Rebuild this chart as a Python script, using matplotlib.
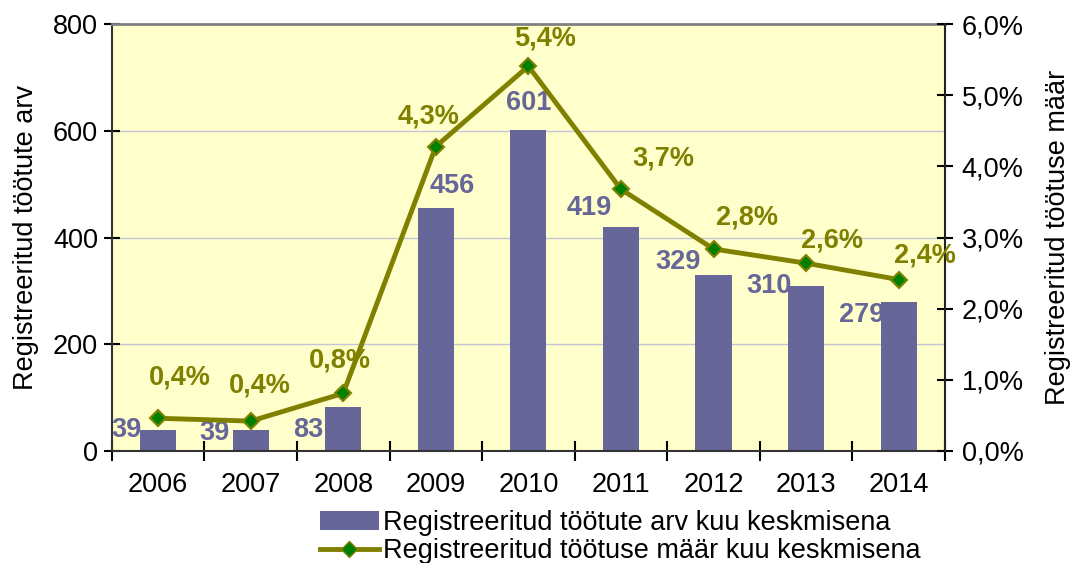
import numpy as np
import matplotlib.pyplot as plt
from matplotlib.ticker import FuncFormatter
from matplotlib.lines import Line2D
from matplotlib.patches import Patch

plt.rcParams['font.family'] = ['Liberation Sans', 'DejaVu Sans']

# data
years = ['2006', '2007', '2008', '2009', '2010', '2011', '2012', '2013', '2014']
unemployed = [39, 39, 83, 456, 601, 419, 329, 310, 279]
rate = [0.46, 0.42, 0.81, 4.28, 5.41, 3.68, 2.84, 2.64, 2.41]
rate_labels = ['0,4%', '0,4%', '0,8%', '4,3%', '5,4%', '3,7%', '2,8%', '2,6%', '2,4%']

# label offsets in pixels (dx, dy), label centre relative to the mark
bar_offsets = [(-32, 0), (-36, -3), (-35, -23), (16, 22), (0, 27),
               (-32, 19), (-35, 13), (-37, 0), (-37, -13)]
line_offsets = [(22, 41), (9, 36), (-3, 33), (-7, 30), (17, 28),
                (42, 31), (33, 31), (26, 23), (26, 24)]

bar_color = '#666699'
line_color = '#808000'
fs = 19.5

fig = plt.figure(figsize=(10.75, 5.63), dpi=100)
ax = fig.add_axes([0.104, 0.199, 0.775, 0.758])
ax.set_facecolor('#FFFFCC')

x = np.arange(len(years))
ax.bar(x, unemployed, width=0.39, color=bar_color, zorder=2)
ax.set_xlim(-0.5, len(years) - 0.5)
ax.set_ylim(0, 800)
ax.set_yticks([0, 200, 400, 600, 800])
ax.yaxis.grid(True, color='#C4C4D8', linewidth=1)
ax.set_axisbelow(True)
ax.set_xticks(x)
ax.set_xticklabels(years, fontsize=fs)
ax.set_xticks(np.arange(-0.5, len(years)), minor=True)
ax.tick_params(axis='x', which='major', length=0, pad=15)
ax.tick_params(axis='x', which='minor', direction='inout', length=14, width=1.5)
ax.tick_params(axis='y', direction='inout', length=12, width=1.5, labelsize=fs, pad=4)
ax.set_ylabel('Registreeritud töötute arv', fontsize=fs, labelpad=10)

for sp in ['left', 'bottom']:
    ax.spines[sp].set_color('#333333')
    ax.spines[sp].set_linewidth(1.5)
ax.spines['top'].set_color('#808080')
ax.spines['top'].set_linewidth(2)
ax.spines['right'].set_visible(False)

for i, v in enumerate(unemployed):
    dx, dy = bar_offsets[i]
    ax.annotate(str(v), (x[i], v), xytext=(dx, dy), textcoords='offset pixels',
                ha='center', va='center', fontsize=fs, fontweight='bold',
                color=bar_color, zorder=5)

ax2 = ax.twinx()
ax2.plot(x, rate, color=line_color, linewidth=3.5, marker='D', markersize=8,
         markerfacecolor='#008000', markeredgecolor=line_color, markeredgewidth=1.5,
         zorder=4)
ax2.set_ylim(0, 6)
ax2.set_yticks([0, 1, 2, 3, 4, 5, 6])
ax2.yaxis.set_major_formatter(FuncFormatter(lambda v, p: f'{v:.1f}%'.replace('.', ',')))
ax2.tick_params(axis='y', direction='inout', length=12, width=1.5, labelsize=fs, pad=6)
ax2.set_ylabel('Registreeritud töötuse määr', fontsize=fs, labelpad=15)
for sp in ['left', 'top', 'bottom']:
    ax2.spines[sp].set_visible(False)
ax2.spines['right'].set_color('#222222')
ax2.spines['right'].set_linewidth(1.5)

for i, v in enumerate(rate):
    dx, dy = line_offsets[i]
    ax2.annotate(rate_labels[i], (x[i], v), xytext=(dx, dy), textcoords='offset pixels',
                 ha='center', va='center', fontsize=fs, fontweight='bold',
                 color=line_color, zorder=6)

handles = [Patch(facecolor=bar_color),
           Line2D([], [], color=line_color, linewidth=3.5, marker='D', markersize=8,
                  markerfacecolor='#008000', markeredgecolor=line_color)]
fig.legend(handles, ['Registreeritud töötute arv kuu keskmisena',
                     'Registreeritud töötuse määr kuu keskmisena'],
           loc='center', bbox_to_anchor=(0.577, 0.046), frameon=False,
           fontsize=fs, handlelength=2.2, handletextpad=0.15, labelspacing=0.1,
           borderpad=0)

fig.savefig('out.png', dpi=100)
